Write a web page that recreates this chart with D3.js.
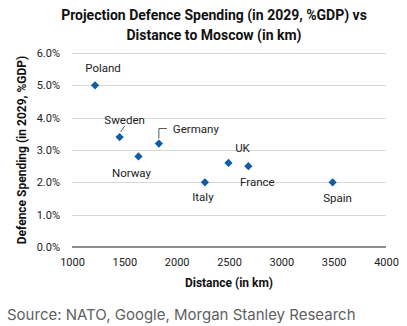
<!DOCTYPE html>
<html>
<head>
<meta charset="utf-8" />
<script src="https://cdn.jsdelivr.net/npm/d3@7"></script>
<style>
  body { margin: 0; background: #fff; }
  text { font-family: Roboto, "Liberation Sans", sans-serif; }
  .grid line { stroke: #d9d9d9; stroke-width: 1px; shape-rendering: crispEdges; }
  .tick text { fill: #222; font-size: 11px; }
</style>
</head>
<body>
<svg width="407" height="326"></svg>
<script>
// countries, distance to Moscow (km) and projected 2029 defence spending (% GDP)
var countries = ["Poland", "Sweden", "Norway", "Germany", "Italy", "UK", "France", "Spain"];
var distance  = [1220, 1455, 1635, 1830, 2270, 2495, 2685, 3490];
var spending  = [5.0, 3.4, 2.8, 3.2, 2.0, 2.6, 2.5, 2.0];

var xTicks = [1000, 1500, 2000, 2500, 3000, 3500, 4000];
var yTicks = [0, 1, 2, 3, 4, 5, 6];

// label offsets relative to each marker
var labelDx = [8, 5, -7, 14, -2, 14, 9, 5];
var labelDy = [-17, -17, 17, -15, 15, -15, 16, 16];
var labelAnchor = ["middle", "middle", "middle", "start", "middle", "middle", "middle", "middle"];

var svg = d3.select("svg"),
    margin = {top: 53, right: 21, bottom: 79, left: 72},
    width = +svg.attr("width") - margin.left - margin.right,
    height = +svg.attr("height") - margin.top - margin.bottom;

var x = d3.scaleLinear().domain([1000, 4000]).range([0, width]);
var y = d3.scaleLinear().domain([0, 6]).range([height, 0]);

var g = svg.append("g")
  .attr("transform", "translate(" + margin.left + "," + margin.top + ")");

// title
svg.append("text")
  .attr("x", 214).attr("y", 20)
  .attr("text-anchor", "middle")
  .style("font-weight", "bold").style("font-size", "14px")
  .style("font-family", "'Liberation Sans Narrow', Roboto, sans-serif")
  .attr("fill", "#111")
  .selectAll("tspan")
  .data(["Projection Defence Spending (in 2029, %GDP) vs", "Distance to Moscow (in km)"])
  .enter().append("tspan")
  .attr("x", 214)
  .attr("dy", function(d, i) { return i ? 20 : 0; })
  .text(function(d) { return d; });

// gridlines
g.append("g")
  .attr("class", "grid")
  .selectAll("line")
  .data(yTicks.filter(function(d) { return d > 0; }))
  .enter().append("line")
  .attr("x1", 0).attr("x2", width)
  .attr("y1", function(d) { return Math.round(y(d)) + 0.5; })
  .attr("y2", function(d) { return Math.round(y(d)) + 0.5; });

// baseline
g.append("line")
  .attr("x1", 0).attr("x2", width)
  .attr("y1", y(0)).attr("y2", y(0))
  .attr("stroke", "#8c8c8c").attr("stroke-width", 2);

// axes (labels only)
var yAxis = g.append("g")
  .call(d3.axisLeft(y).tickValues(yTicks).tickSize(0).tickPadding(12)
    .tickFormat(function(d) { return d.toFixed(1) + "%"; }));
yAxis.select(".domain").remove();

var xAxis = g.append("g")
  .attr("transform", "translate(0," + height + ")")
  .call(d3.axisBottom(x).tickValues(xTicks).tickSize(0).tickPadding(11)
    .tickFormat(d3.format("d")));
xAxis.select(".domain").remove();

// axis titles
svg.append("text")
  .attr("transform", "translate(26," + (margin.top + height / 2) + ") rotate(-90)")
  .attr("text-anchor", "middle")
  .style("font-weight", "bold").style("font-size", "12px")
  .style("font-family", "'Liberation Sans Narrow', Roboto, sans-serif")
  .attr("fill", "#111")
  .text("Defence Spending (in 2029, %GDP)");

svg.append("text")
  .attr("x", margin.left + width / 2).attr("y", 287)
  .attr("text-anchor", "middle")
  .style("font-weight", "bold").style("font-size", "12px")
  .style("font-family", "'Liberation Sans Narrow', Roboto, sans-serif")
  .attr("fill", "#111")
  .text("Distance (in km)");

var data = countries.map(function(c, i) {
  return {name: c, dist: distance[i], val: spending[i], dx: labelDx[i], dy: labelDy[i], anchor: labelAnchor[i]};
});

// leader lines for Sweden and Germany
g.append("path")
  .attr("d", "M" + (x(1455) + 1) + "," + (y(3.4) - 5) + "L" + (x(1455) + 5) + "," + (y(3.4) - 11))
  .attr("stroke", "#555").attr("fill", "none");
g.append("path")
  .attr("d", "M" + x(1830) + "," + (y(3.2) - 5) + "V" + (y(3.2) - 15) + "h8")
  .attr("stroke", "#555").attr("fill", "none");

// markers
g.selectAll(".pt")
  .data(data)
  .enter().append("path")
  .attr("class", "pt")
  .attr("d", d3.symbol().type(d3.symbolSquare).size(34))
  .attr("transform", function(d) { return "translate(" + x(d.dist) + "," + y(d.val) + ") rotate(45)"; })
  .attr("fill", "#0f5ca8");

// country labels
g.selectAll(".lbl")
  .data(data)
  .enter().append("text")
  .attr("class", "lbl")
  .attr("x", function(d) { return x(d.dist) + d.dx; })
  .attr("y", function(d) { return y(d.val) + d.dy; })
  .attr("dy", "0.35em")
  .attr("text-anchor", function(d) { return d.anchor; })
  .style("font-size", "11.5px")
  .attr("fill", "#222")
  .text(function(d) { return d.name; });

// source note
svg.append("text")
  .attr("x", 7).attr("y", 320)
  .style("font-size", "15px")
  .style("font-family", "Inter, Roboto, sans-serif")
  .attr("fill", "#5f5f5f")
  .text("Source: NATO, Google, Morgan Stanley Research");
</script>
</body>
</html>
